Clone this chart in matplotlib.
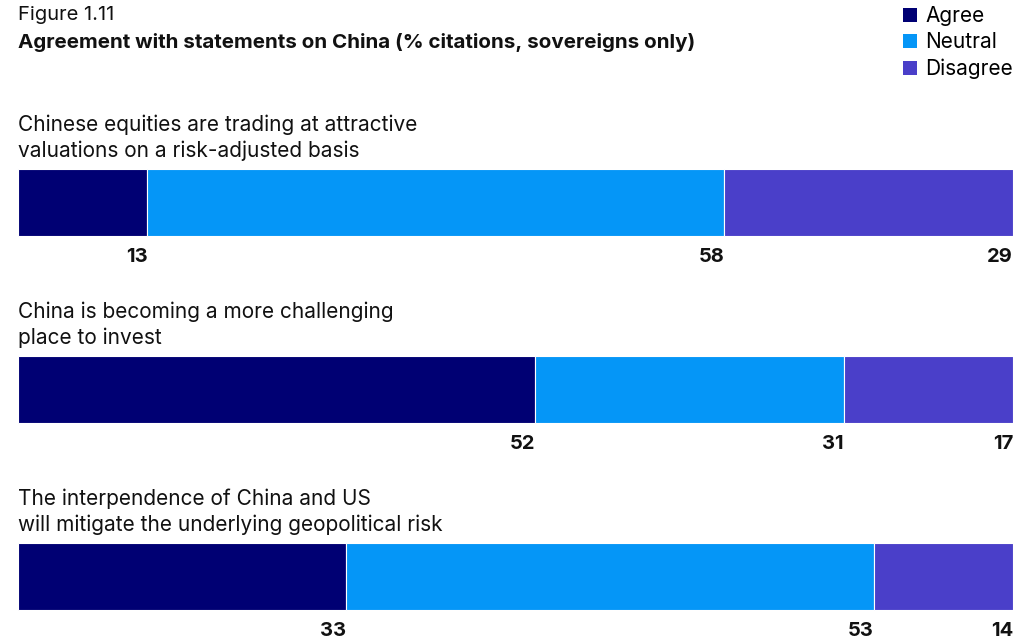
import matplotlib
matplotlib.use("Agg")
import matplotlib.pyplot as plt
from matplotlib.patches import Patch

plt.rcParams['font.family'] = ['Inter', 'DejaVu Sans']

statements = [
    "Chinese equities are trading at attractive\nvaluations on a risk-adjusted basis",
    "China is becoming a more challenging\nplace to invest",
    "The interpendence of China and US\nwill mitigate the underlying geopolitical risk",
]
series = ["Agree", "Neutral", "Disagree"]
agree = [13, 52, 33]
neutral = [58, 31, 53]
disagree = [29, 17, 14]
colors = ["#000073", "#0596f7", "#4a3fc9"]

fig = plt.figure(figsize=(10.3, 6.41), dpi=100)
ax = fig.add_axes([18 / 1030, 0, 995 / 1030, 541 / 641])
ax.set_xlim(0, 100)
ax.set_ylim(2.345, -0.548)
ax.axis('off')

height = 67 / 187
ypos = list(range(len(statements)))
left = [0] * len(statements)
for name, vals, c in zip(series, [agree, neutral, disagree], colors):
    ax.barh(ypos, vals, left=left, height=height, color=c,
            edgecolor='white', linewidth=0.8)
    for y, l, v in zip(ypos, left, vals):
        ax.annotate(str(v), (l + v, y + height / 2), xytext=(0, -9),
                    textcoords='offset points', ha='right', va='top',
                    fontsize=14.5, fontweight='bold', color='#111111')
    left = [a + b for a, b in zip(left, vals)]

for y, s in zip(ypos, statements):
    ax.annotate(s, (0, y - height / 2), xytext=(0, 6),
                textcoords='offset points', ha='left', va='bottom',
                fontsize=15, color='#111111', linespacing=1.3)

fig.text(18 / 1030, 1 - 15 / 641, "Figure 1.11", fontsize=14.5,
         va='center', ha='left', color='#111111')
fig.text(18 / 1030, 1 - 43 / 641,
         "Agreement with statements on China (% citations, sovereigns only)",
         fontsize=14.8, fontweight='bold', va='center', ha='left', color='#111111')

handles = [Patch(facecolor=c, edgecolor='none') for c in colors]
fig.legend(handles, series, loc='upper right',
           bbox_to_anchor=(1013 / 1030, 1 - 6 / 641),
           frameon=False, fontsize=15, handlelength=0.67, handleheight=0.67,
           handletextpad=0.4, labelspacing=0.3, borderaxespad=0, borderpad=0)

fig.savefig("out.png", dpi=100)
